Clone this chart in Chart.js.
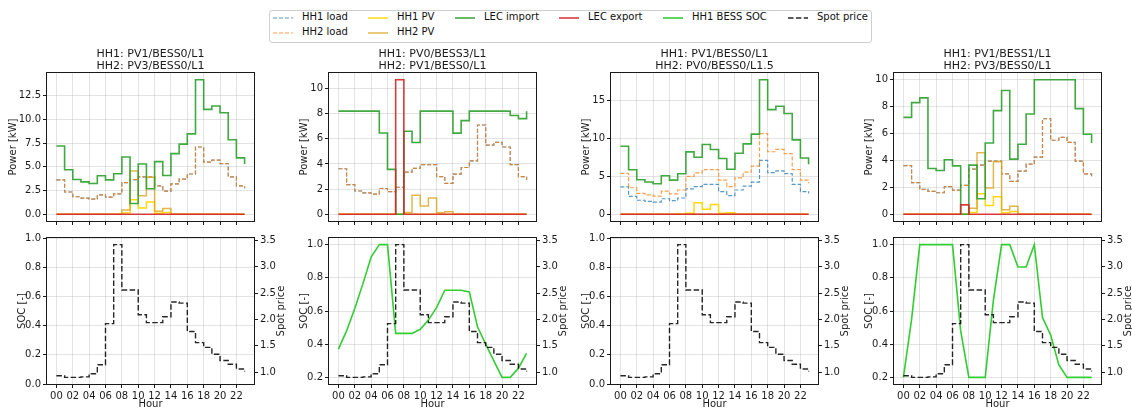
<!DOCTYPE html>
<html>
<head>
<meta charset="utf-8">
<script src="https://cdn.jsdelivr.net/npm/chart.js@4.4.1/dist/chart.umd.min.js"></script>
<style>
  body { margin: 0; background: #fff; }
  #fig { position: relative; width: 1132px; height: 410px; overflow: hidden; font-family: 'DejaVu Sans', sans-serif; }
  #fig canvas { position: absolute; }
  #legend { position: absolute; left: 269px; top: 10px; width: 601px; height: 31px; border: 1px solid #cfcfcf; border-radius: 3px; }
  .lg-text { position: absolute; font-size: 10px; line-height: 12px; color: #111; white-space: nowrap; }
  .lg-line { position: absolute; }
</style>
</head>
<body>
<div id="fig"></div>
<script>
// ---- data ----
const HOURS = [0, 1, 2, 3, 4, 5, 6, 7, 8, 9, 10, 11, 12, 13, 14, 15, 16, 17, 18, 19, 20, 21, 22, 23];
const HOUR_TICKS = [0, 2, 4, 6, 8, 10, 12, 14, 16, 18, 20, 22];
const HOUR_LABELS = ['00', '02', '04', '06', '08', '10', '12', '14', '16', '18', '20', '22'];

const LOAD_L1 = [3.62, 2.35, 1.85, 1.7, 1.6, 2.05, 1.8, 2.15, 3.35, 3.65, 3.95, 3.95, 3.0, 2.45, 3.2, 3.72, 4.25, 7.1, 5.5, 5.72, 5.35, 3.95, 3.0, 2.75];
const LOAD_L15 = [5.4, 3.5, 2.75, 2.55, 2.4, 3.05, 2.7, 3.2, 5.0, 5.45, 5.9, 5.9, 4.5, 3.65, 4.8, 5.55, 6.35, 10.65, 8.25, 8.55, 8.0, 5.9, 4.5, 4.1];

const PV0 = [0, 0, 0, 0, 0, 0, 0, 0, 0, 0, 0, 0, 0, 0, 0, 0, 0, 0, 0, 0, 0, 0, 0, 0];
const PV1 = [0, 0, 0, 0, 0, 0, 0, 0, 0.14, 1.52, 0.65, 1.3, 0.12, 0.2, 0, 0, 0, 0, 0, 0, 0, 0, 0, 0];
const PV3 = [0, 0, 0, 0, 0, 0, 0, 0, 0.45, 4.58, 1.95, 3.9, 0.33, 0.6, 0, 0, 0, 0, 0, 0, 0, 0, 0, 0];

const IMPORT_A = [7.2, 4.7, 3.67, 3.42, 3.24, 4.06, 3.63, 4.27, 6.05, 1.14, 5.3, 2.7, 5.56, 4.1, 6.4, 7.4, 8.48, 14.2, 11.07, 11.43, 10.72, 7.87, 5.95, 5.3];
const IMPORT_B = [8.2, 8.2, 8.2, 8.2, 8.2, 6.46, 3.57, 0, 6.6, 5.71, 8.2, 8.2, 8.2, 8.2, 6.45, 7.45, 8.2, 8.2, 8.2, 8.2, 8.2, 7.86, 7.61, 8.2];
const IMPORT_C = [8.98, 5.88, 4.56, 4.25, 4.03, 5.09, 4.51, 5.35, 8.23, 7.52, 9.2, 8.54, 7.35, 5.93, 8.05, 9.29, 10.58, 17.75, 13.8, 14.25, 13.3, 9.82, 7.43, 6.6];
const IMPORT_D = [7.2, 8.3, 8.65, 3.4, 3.25, 4.05, 3.6, 0, 3.65, 1.15, 5.3, 7.7, 9.2, 4.1, 5.2, 7.45, 10, 10, 10, 10, 10, 7.85, 5.95, 5.3];

const EXPORT_A = [0, 0, 0, 0, 0, 0, 0, 0, 0, 0, 0, 0, 0, 0, 0, 0, 0, 0, 0, 0, 0, 0, 0, 0];
const EXPORT_B = [0, 0, 0, 0, 0, 0, 0, 10.7, 0, 0, 0, 0, 0, 0, 0, 0, 0, 0, 0, 0, 0, 0, 0, 0];
const EXPORT_C = [0, 0, 0, 0, 0, 0, 0, 0, 0, 0, 0, 0, 0, 0, 0, 0, 0, 0, 0, 0, 0, 0, 0, 0];
const EXPORT_D = [0, 0, 0, 0, 0, 0, 0, 0.7, 0, 0, 0, 0, 0, 0, 0, 0, 0, 0, 0, 0, 0, 0, 0, 0];

const SOC_B = [0.37, 0.48, 0.615, 0.765, 0.925, 1.0, 1.0, 0.465, 0.465, 0.465, 0.49, 0.545, 0.62, 0.725, 0.725, 0.725, 0.715, 0.505, 0.4, 0.3, 0.2, 0.2, 0.255, 0.345];
const SOC_D = [0.2, 0.55, 1.0, 1.0, 1.0, 1.0, 1.0, 0.48, 0.2, 0.2, 0.2, 0.665, 1.0, 1.0, 0.865, 0.865, 1.0, 0.56, 0.455, 0.275, 0.2, 0.2, 0.2, 0.2];

const SPOT = [0.93, 0.9, 0.9, 0.91, 0.97, 1.14, 1.92, 3.42, 2.56, 2.56, 2.09, 1.94, 1.94, 2.05, 2.33, 2.31, 1.77, 1.56, 1.47, 1.34, 1.22, 1.15, 1.06, 1.01];

const PANEL_TITLES = [
  ['HH1: PV1/BESS0/L1', 'HH2: PV3/BESS0/L1'],
  ['HH1: PV0/BESS3/L1', 'HH2: PV1/BESS0/L1'],
  ['HH1: PV1/BESS0/L1', 'HH2: PV0/BESS0/L1.5'],
  ['HH1: PV1/BESS1/L1', 'HH2: PV3/BESS0/L1']
];
const HH1_LOAD = [LOAD_L1, LOAD_L1, LOAD_L1, LOAD_L1];
const HH2_LOAD = [LOAD_L1, LOAD_L1, LOAD_L15, LOAD_L1];
const HH1_PV = [PV1, PV0, PV1, PV1];
const HH2_PV = [PV3, PV1, PV0, PV3];
const LEC_IMPORT = [IMPORT_A, IMPORT_B, IMPORT_C, IMPORT_D];
const LEC_EXPORT = [EXPORT_A, EXPORT_B, EXPORT_C, EXPORT_D];
const HH1_SOC = [null, SOC_B, null, SOC_D];

const POWER_TICKS = [[0, 2.5, 5, 7.5, 10, 12.5], [0, 2, 4, 6, 8, 10], [0, 5, 10, 15], [0, 2, 4, 6, 8, 10]];
const SOC_TICKS_FULL = [0, 0.2, 0.4, 0.6, 0.8, 1.0];
const SOC_TICKS = [0.2, 0.4, 0.6, 0.8, 1.0];
const SPOT_TICKS = [1.0, 1.5, 2.0, 2.5, 3.0, 3.5];

const LEGEND_LABELS = ['HH1 load', 'HH2 load', 'HH1 PV', 'HH2 PV', 'LEC import', 'LEC export', 'HH1 BESS SOC', 'Spot price'];

// ---- styles / layout ----
const INK = '#1a1a1a';
const GRID = 'rgba(176,176,176,0.35)';
const STYLE = {
  'HH1 load':     { color: 'rgba(31,119,180,0.75)', width: 1.2, dash: [4, 2] },
  'HH2 load':     { color: 'rgba(255,127,14,0.75)', width: 1.2, dash: [4, 2] },
  'HH1 PV':       { color: 'rgba(255,215,0,0.95)',  width: 1.5, dash: [] },
  'HH2 PV':       { color: 'rgba(218,165,32,0.8)',  width: 1.5, dash: [] },
  'LEC import':   { color: 'rgba(44,160,44,0.9)',   width: 1.6, dash: [] },
  'LEC export':   { color: 'rgba(214,39,40,0.9)',   width: 1.6, dash: [] },
  'HH1 BESS SOC': { color: 'rgba(50,205,50,1)',     width: 1.6, dash: [] },
  'Spot price':   { color: 'rgba(0,0,0,0.85)',      width: 1.4, dash: [5.5, 2.4] }
};
const LEGEND_POS = {
  'HH1 load': [273, 17.7], 'HH2 load': [273, 32.7], 'HH1 PV': [368, 17.7], 'HH2 PV': [368, 32.7],
  'LEC import': [455, 17.7], 'LEC export': [559, 17.7], 'HH1 BESS SOC': [663, 17.7], 'Spot price': [788, 17.7]
};
const PLOT_LEFT = [47, 329, 611, 894];
const PLOT_W = 207;
const AXIS_W = 47;
const X_MIN = -1.15, X_MAX = 24.15;

Chart.defaults.font.family = "'DejaVu Sans', sans-serif";
Chart.defaults.font.size = 10;
Chart.defaults.color = INK;

const fig = document.getElementById('fig');

// legend (figure level)
const legend = document.createElement('div');
legend.id = 'legend';
fig.appendChild(legend);
LEGEND_LABELS.forEach(function(name) {
  const s = STYLE[name];
  const p = LEGEND_POS[name];
  const svg = document.createElementNS('http://www.w3.org/2000/svg', 'svg');
  svg.setAttribute('class', 'lg-line');
  svg.setAttribute('width', '20');
  svg.setAttribute('height', '6');
  svg.style.left = p[0] + 'px';
  svg.style.top = (p[1] - 3) + 'px';
  const ln = document.createElementNS('http://www.w3.org/2000/svg', 'line');
  ln.setAttribute('x1', '0'); ln.setAttribute('x2', '20');
  ln.setAttribute('y1', '3'); ln.setAttribute('y2', '3');
  ln.setAttribute('stroke', s.color);
  ln.setAttribute('stroke-width', s.width);
  if (s.dash.length) ln.setAttribute('stroke-dasharray', s.dash.join(' '));
  svg.appendChild(ln);
  fig.appendChild(svg);
  const t = document.createElement('div');
  t.className = 'lg-text';
  t.textContent = name;
  t.style.left = (p[0] + 29) + 'px';
  t.style.top = (p[1] - 6.5) + 'px';
  fig.appendChild(t);
});

// axes box like matplotlib spines
const frame = {
  id: 'frame',
  afterDraw(chart) {
    const a = chart.chartArea, ctx = chart.ctx;
    ctx.save();
    ctx.strokeStyle = INK;
    ctx.lineWidth = 1;
    ctx.strokeRect(Math.round(a.left) - 0.5, Math.round(a.top) - 0.5,
                   Math.round(a.right - a.left) + 1, Math.round(a.bottom - a.top) + 1);
    ctx.restore();
  }
};
// right axis label reads bottom-to-top as in matplotlib
const rightTitle = {
  id: 'rightTitle',
  afterDraw(chart, args, opts) {
    if (!opts.text) return;
    const a = chart.chartArea, ctx = chart.ctx;
    ctx.save();
    ctx.translate(a.right + 27, (a.top + a.bottom) / 2);
    ctx.rotate(-Math.PI / 2);
    ctx.font = "10px 'DejaVu Sans', sans-serif";
    ctx.fillStyle = INK;
    ctx.textAlign = 'center';
    ctx.textBaseline = 'middle';
    ctx.fillText(opts.text, 0, 0);
    ctx.restore();
  }
};

function pts(vals) {
  return HOURS.map(function(h, i) { return { x: h, y: vals[i] }; });
}

function line(name, vals, stepped, order, axis) {
  const s = STYLE[name];
  return {
    label: name, data: pts(vals), yAxisID: axis || 'y',
    borderColor: s.color, borderWidth: s.width, borderDash: s.dash,
    pointRadius: 0, fill: false, stepped: stepped, tension: 0, order: order
  };
}

function xScale(labels) {
  return {
    type: 'linear', min: X_MIN, max: X_MAX,
    afterBuildTicks: function(s) { s.ticks = HOUR_TICKS.map(function(v) { return { value: v }; }); },
    afterFit: function(s) { s.height = labels ? 26 : 9; },
    border: { display: false },
    grid: { color: GRID, tickColor: INK, tickLength: 4 },
    ticks: { display: labels, autoSkip: false, maxRotation: 0, minRotation: 0, padding: 2,
             callback: function(v, i) { return HOUR_LABELS[i]; } },
    title: { display: labels, text: 'Hour', padding: { top: 0, bottom: 0 } }
  };
}

function yScale(min, max, ticks, dec, title, pad) {
  return {
    type: 'linear', position: 'left', min: min, max: max,
    afterBuildTicks: function(s) { s.ticks = ticks.map(function(v) { return { value: v }; }); },
    afterFit: function(s) { s.width = AXIS_W; },
    border: { display: false },
    grid: { color: GRID, tickColor: INK, tickLength: 4 },
    ticks: { autoSkip: false, padding: 2, callback: function(v) { return v.toFixed(dec); } },
    title: { display: true, text: title, padding: { top: pad, bottom: 0 } }
  };
}

function addCanvas(left, top, w, h) {
  const c = document.createElement('canvas');
  c.width = w; c.height = h;
  c.style.left = left + 'px'; c.style.top = top + 'px';
  c.style.width = w + 'px'; c.style.height = h + 'px';
  fig.appendChild(c);
  return c;
}

const baseOpts = {
  responsive: false, animation: false, events: []
};

for (let i = 0; i < 4; i++) {
  // ---- power panel ----
  const pt = POWER_TICKS[i];
  const top = Math.max.apply(null, LEC_IMPORT[i].concat(LEC_EXPORT[i], HH2_LOAD[i], HH2_PV[i]));
  const margin = 0.05 * top;
  const c1 = addCanvas(PLOT_LEFT[i] - AXIS_W, 40, AXIS_W + PLOT_W + 10, 190);
  new Chart(c1, {
    type: 'line',
    data: {
      datasets: [
        line('HH1 load', HH1_LOAD[i], true, 5),
        line('HH2 load', HH2_LOAD[i], true, 4),
        line('HH1 PV', HH1_PV[i], true, 3),
        line('HH2 PV', HH2_PV[i], true, 2),
        line('LEC import', LEC_IMPORT[i], true, 1),
        line('LEC export', LEC_EXPORT[i], true, 0)
      ]
    },
    options: Object.assign({}, baseOpts, {
      layout: { padding: { left: 0, right: 10, top: 0, bottom: 0 } },
      scales: {
        x: xScale(false),
        y: yScale(-margin, top + margin, pt, i === 0 ? 1 : 0, 'Power [kW]', i === 0 ? 7 : 16.5)
      },
      plugins: {
        legend: { display: false }, tooltip: { enabled: false },
        title: { display: true, fullSize: false, text: PANEL_TITLES[i], color: INK,
                 font: { size: 11, weight: 'normal', lineHeight: 1.1 }, padding: { top: 8, bottom: 0.8 } }
      }
    }),
    plugins: [frame]
  });

  // ---- SOC / spot price panel ----
  const soc = HH1_SOC[i];
  const ds = [line('Spot price', SPOT, true, 0, 'y2')];
  if (soc) ds.push(line('HH1 BESS SOC', soc, false, 1, 'y'));
  const c2 = addCanvas(PLOT_LEFT[i] - AXIS_W, 230, AXIS_W + PLOT_W + 40, 180);
  new Chart(c2, {
    type: 'line',
    data: { datasets: ds },
    options: Object.assign({}, baseOpts, {
      layout: { padding: { left: 0, right: 0, top: 8, bottom: 0 } },
      scales: {
        x: xScale(true),
        y: soc ? yScale(0.16, 1.04, SOC_TICKS, 1, 'SOC [-]', 16) : yScale(0, 1, SOC_TICKS_FULL, 1, 'SOC [-]', 16),
        y2: {
          type: 'linear', position: 'right', min: 0.774, max: 3.546,
          afterBuildTicks: function(s) { s.ticks = SPOT_TICKS.map(function(v) { return { value: v }; }); },
          afterFit: function(s) { s.width = 40; },
          border: { display: false },
          grid: { drawOnChartArea: false, tickColor: INK, tickLength: 4 },
          ticks: { autoSkip: false, padding: 2, callback: function(v) { return v.toFixed(1); } },
          title: { display: false }
        }
      },
      plugins: {
        legend: { display: false }, tooltip: { enabled: false },
        rightTitle: { text: 'Spot price' }
      }
    }),
    plugins: [frame, rightTitle]
  });
}
</script>
</body>
</html>
